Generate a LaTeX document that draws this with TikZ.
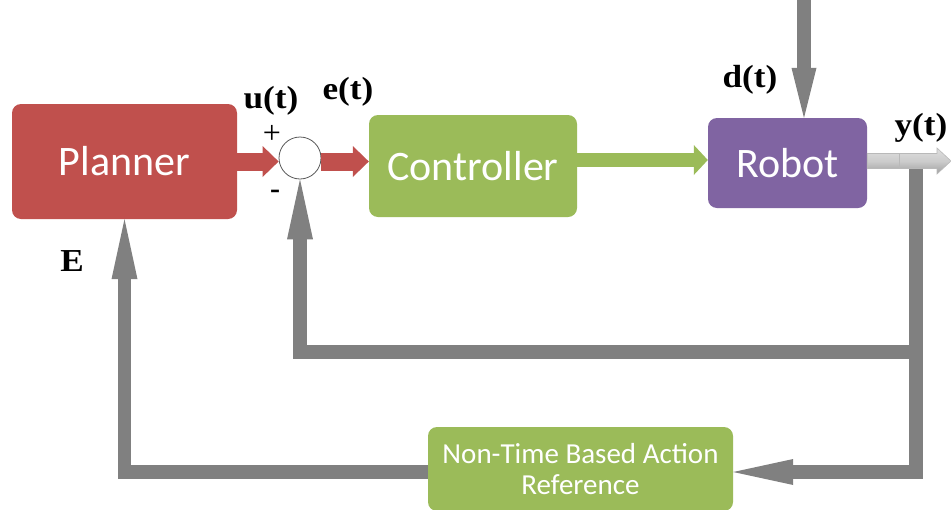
\documentclass[tikz,border=0pt]{standalone}
\usepackage{fontspec}
\usetikzlibrary{arrows.meta,calc}
\newfontfamily\boxfont{Carlito}
\newfontfamily\lblfont{Liberation Serif}
\definecolor{planred}{HTML}{C0504D}
\definecolor{ctrlgreen}{HTML}{9BBB59}
\definecolor{robotpurple}{HTML}{8064A2}
\definecolor{fbgray}{HTML}{808080}
\tikzset{
  blockbox/.style={rounded corners=9pt, text=white, inner sep=0pt, align=center},
  bigtext/.style={font=\boxfont\fontsize{42}{50}\selectfont},
  smalltext/.style={font=\boxfont\fontsize{29}{31}\selectfont},
  siglabel/.style={font=\lblfont\bfseries\fontsize{32}{32}\selectfont, inner sep=0pt,
    xscale=1.1},
  redarrow/.style={draw=planred, line width=18pt, line cap=butt,
    -{Triangle[length=16pt,width=31pt,line width=0pt]}},
  greenarrow/.style={draw=ctrlgreen, line width=14pt, line cap=butt,
    -{Triangle[length=14pt,width=30pt,line width=0pt]}},
  grayline/.style={draw=fbgray, line width=13.5pt, line cap=butt, line join=miter},
  grayarrow/.style={grayline, -{Triangle[length=60pt,width=26pt,line width=0pt]}},
  outshade/.style={top color=gray!25, bottom color=gray!75, middle color=gray!40,
    draw=gray!55, line width=0.6pt},
}
\begin{document}
\begin{tikzpicture}[x=1pt, y=-1pt]
  \useasboundingbox (0,0) rectangle (951,509);
  \fill[white] (0,0) rectangle (951,509);

  % blocks
  \node[blockbox, bigtext, fill=planred, minimum width=225pt, minimum height=115pt]
    (planner) at (124.5,161.5) {Planner};
  \node[blockbox, bigtext, fill=ctrlgreen, minimum width=208pt, minimum height=102pt]
    (ctrl) at (473,166) {Controller};
  \node[blockbox, bigtext, fill=robotpurple, minimum width=159pt, minimum height=90pt]
    (robot) at (787.5,163) {Robot};
  \node[blockbox, smalltext, fill=ctrlgreen, minimum width=305pt, minimum height=84pt]
    (ntbar) at (580.5,469) {Non-Time Based Action\\Reference};

  % summing junction
  \node[circle, draw=gray!70!black, fill=white, minimum size=42pt, inner sep=0pt,
    line width=0.8pt] (sum) at (300,158) {};

  % helper points
  \coordinate (dtop) at (804,0);
  \coordinate (yend) at (951,161);
  \coordinate (br) at (916,166);
  \coordinate (fb1) at (916,352);
  \coordinate (fb2) at (916,472);

  % forward path
  \draw[redarrow] (planner.east) -- (planner.east -| sum.west);
  \draw[redarrow] (sum.east |- planner.east) -- (ctrl.west |- planner.east);
  \draw[greenarrow] (ctrl.east |- 0,160) -- (robot.west |- 0,160);

  % disturbance
  \draw[grayline, -{Triangle[length=50pt,width=25pt,line width=0pt]}]
    (dtop) -- (dtop |- robot.north);

  % feedback loops
  \draw[grayline] (br) -- (fb1);
  \draw[grayarrow] (fb1) -- (sum.south |- fb1) -- (sum.south);
  \draw[grayarrow] (fb1) -- (fb2) -- (ntbar.east |- fb2);
  \draw[grayarrow] (ntbar.west |- fb2) -- (planner.south |- fb2) -- (planner.south);

  % output arrow
  \shade[outshade] ($(robot.east|-yend)+(0,-7.5)$) -- ($(yend)+(-14,-7.5)$)
    -- ($(yend)+(-14,-13)$) -- (yend) -- ($(yend)+(-14,13)$)
    -- ($(yend)+(-14,7.5)$) -- ($(robot.east|-yend)+(0,7.5)$) -- cycle;
  \draw[gray!55, line width=0.8pt] ($(yend)+(-52,-7.5)$) -- ($(yend)+(-52,7.5)$);

  % signal labels
  \node[siglabel] (ut) at (271,101) {u(t)};
  \node[siglabel] (et) at (348,92) {e(t)};
  \node[siglabel] (dt) at (750,80) {d(t)};
  \node[siglabel] (yt) at (921,128) {y(t)};
  \node[siglabel] (elbl) at (72,261) {E};
  \node[font=\lblfont\fontsize{32}{32}\selectfont, inner sep=0pt] (plus) at (272,134) {+};
  \node[font=\lblfont\bfseries\fontsize{30}{30}\selectfont, inner sep=0pt] (minus) at (275,194) {-};
\end{tikzpicture}
\end{document}
